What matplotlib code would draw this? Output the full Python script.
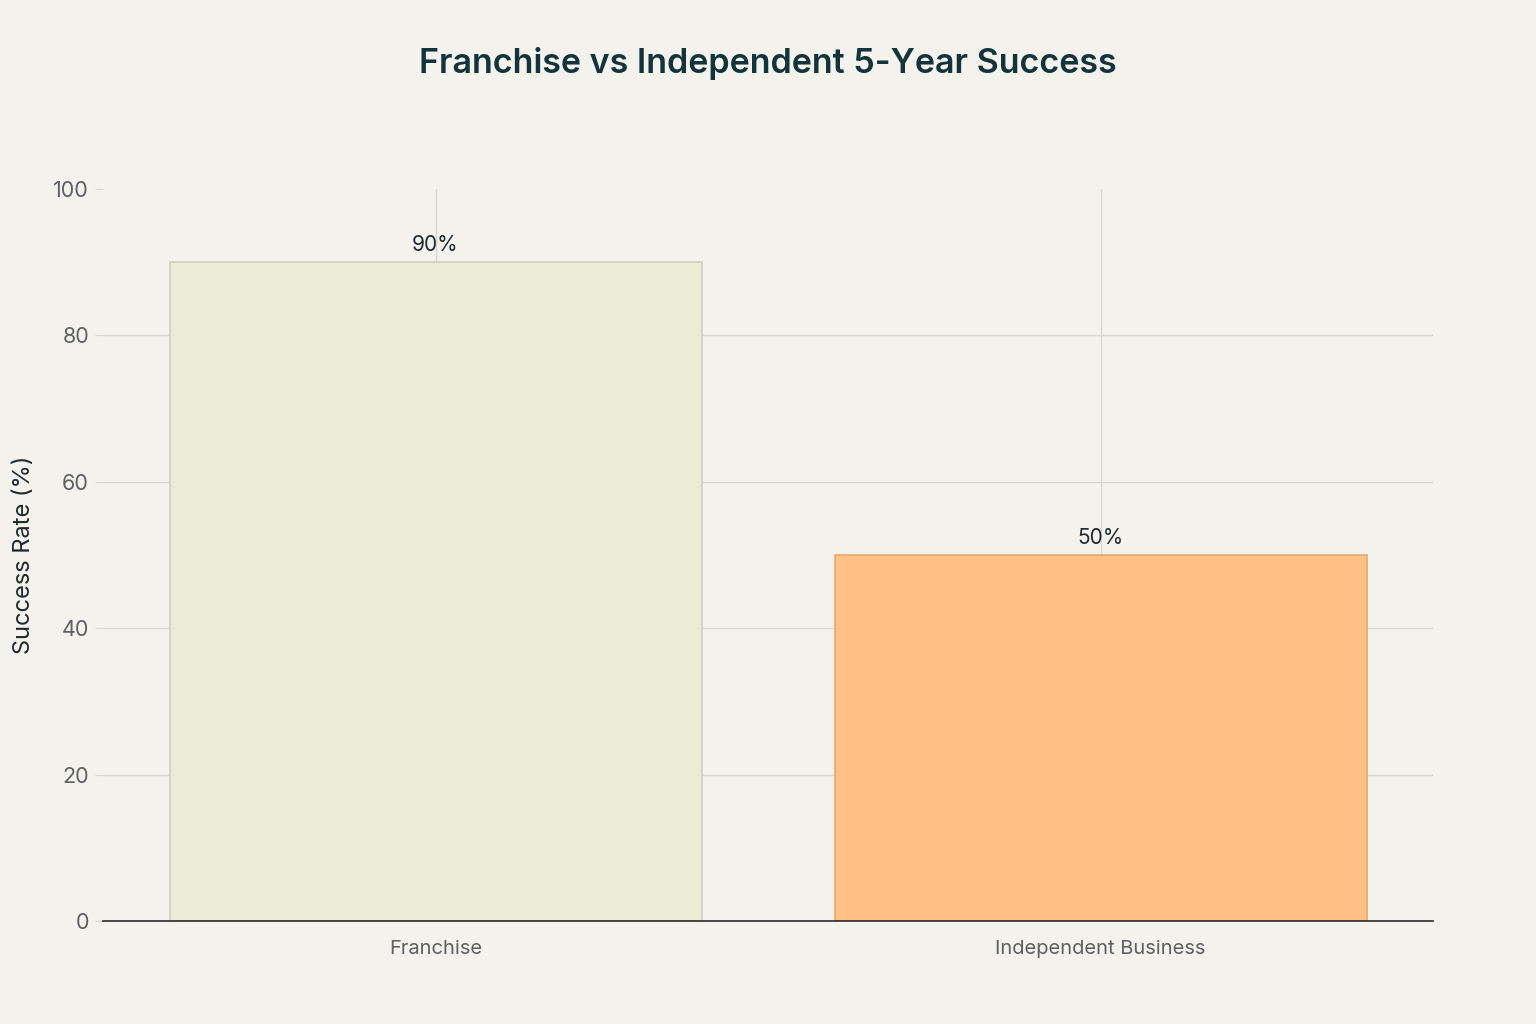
import matplotlib
matplotlib.use("Agg")
import matplotlib.pyplot as plt

categories = ["Franchise", "Independent Business"]
values = [90, 50]
labels = ["90%", "50%"]
bar_colors = ["#ECEBD5", "#FFC185"]
edge_colors = ["#CFCFBE", "#E5A970"]
yticks = [0, 20, 40, 60, 80, 100]

plt.rcParams['font.family'] = ['Inter', 'DejaVu Sans']
bg = "#F3F2EC"
fig = plt.figure(figsize=(15.36, 10.24), dpi=100, facecolor=bg)
ax = fig.add_axes([103/1536, 1-921/1024, (1433-103)/1536, (921-189)/1024])
ax.set_facecolor(bg)

x = list(range(len(categories)))
bars = ax.bar(x, values, width=0.8, color=bar_colors, edgecolor=edge_colors, linewidth=1.2, zorder=3)
for xi, v, lab in zip(x, values, labels):
    ax.annotate(lab, (xi, v), xytext=(0, 5), textcoords="offset points",
                ha="center", va="bottom", fontsize=15, color="#1F2A2E", zorder=4)

ax.set_xlim(-0.5, 1.5)
ax.set_ylim(0, 100)
ax.set_yticks(yticks)
ax.set_xticks(x)
ax.set_xticklabels(categories)
ax.grid(True, color="#D8D8D2", linewidth=1, zorder=0)
ygl = ax.get_ygridlines()
ygl[-1].set_visible(False)
ygl[0].set_visible(False)
for s in ["top", "right", "left"]:
    ax.spines[s].set_visible(False)
ax.spines["bottom"].set_color("#2A2A2A")
ax.spines["bottom"].set_linewidth(1.2)
ax.spines["bottom"].set_zorder(5)
ax.tick_params(axis="y", length=6, color="#D8D8D2", labelsize=15.5, labelcolor="#5E6163", pad=4)
ax.tick_params(axis="x", length=0, labelsize=14.5, labelcolor="#5E6163", pad=14)
ax.set_ylabel("Success Rate (%)", fontsize=17, color="#1F2A2E", labelpad=13)

fig.text(0.5, 1-63/1024, "Franchise vs Independent 5-Year Success", ha="center", va="center",
         fontsize=24.5, fontweight="semibold", color="#13343B")

fig.savefig("out.png", dpi=100, facecolor=bg)
